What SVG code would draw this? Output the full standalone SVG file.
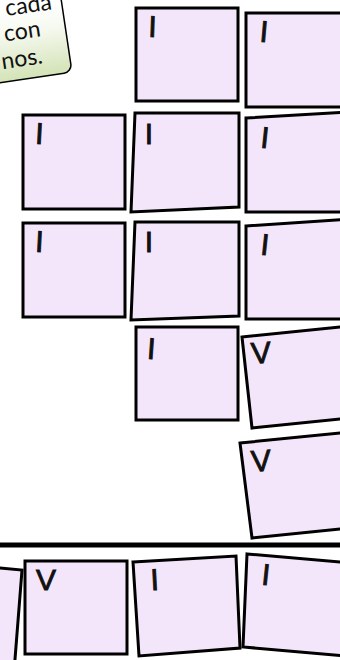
<svg xmlns="http://www.w3.org/2000/svg" width="340" height="660" viewBox="0 0 340 660">
<defs>
<linearGradient id="gNote" gradientUnits="userSpaceOnUse" x1="0" y1="0" x2="0" y2="72">
<stop offset="0" stop-color="#ffffff"/>
<stop offset="0.35" stop-color="#f6f9f0"/>
<stop offset="1" stop-color="#d3e3b6"/>
</linearGradient>
<style>
.card{fill:#f4e6fa;stroke:#000;stroke-width:3;stroke-linejoin:miter}
.mk{font-family:"Liberation Sans",Arial,sans-serif;font-size:30px;fill:#111;stroke:#111;stroke-width:0.9;text-anchor:middle}
.nt{font-family:Lato,"Liberation Sans",sans-serif;font-size:23px;fill:#111;text-anchor:end}
.sep{stroke:#000;stroke-width:5}
</style>
</defs>
<g id="note" transform="rotate(-8.5 72 72)">
<rect x="-200" y="-200" width="272" height="272" rx="8" fill="url(#gNote)" stroke="#000" stroke-width="1.5"/>
<text class="nt" x="62" y="7">cada</text>
<text class="nt" x="47" y="32">con</text>
<text class="nt" x="45" y="59">nos.</text>
</g>
<g id="cardA"><polygon class="card" points="136,8 238,8 238,101 136,101"/><text class="mk" x="152.5" y="37" transform="rotate(2 152 26)">I</text></g>
<g id="cardB"><polygon class="card" points="246,13 350,13 350,107 246,107"/><text class="mk" x="264" y="42" transform="rotate(5 264 31)">I</text></g>
<g id="cardC"><polygon class="card" points="23,115 125,115 125,209 23,209"/><text class="mk" x="39.5" y="144" transform="rotate(3 39 133)">I</text></g>
<g id="cardD"><polygon class="card" points="135,113 239,113 239,207 131,212"/><text class="mk" x="149" y="144">I</text></g>
<g id="cardE"><polygon class="card" points="246,118 350,112 350,212 246,212"/><text class="mk" x="265" y="148" transform="rotate(6 265 137)">I</text></g>
<g id="cardF"><polygon class="card" points="23,223 125,223 125,317 23,317"/><text class="mk" x="39.5" y="252" transform="rotate(3 39 241)">I</text></g>
<g id="cardG"><polygon class="card" points="135,222 239,222 239,316 131,320"/><text class="mk" x="149" y="252">I</text></g>
<g id="cardH"><polygon class="card" points="246,226 350,219 350,319 246,319"/><text class="mk" x="265" y="255" transform="rotate(6 265 244)">I</text></g>
<g id="cardI"><polygon class="card" points="136,327 238,327 238,420 136,420"/><text class="mk" x="151.5" y="359" transform="rotate(4 151 348)">I</text></g>
<g id="cardJ"><polygon class="card" points="242,337 350,326 360,417 252,428"/><text class="mk" x="261" y="363" transform="rotate(-4 261 352)">V</text></g>
<g id="cardK"><polygon class="card" points="240,443 350,432 360,527 252,538"/><text class="mk" x="261" y="471" transform="rotate(-4 261 460)">V</text></g>
<g id="separator"><line class="sep" x1="0" y1="545" x2="340" y2="545"/></g>
<g id="cardL"><polygon class="card" points="-80,561 22,570 14,672 -88,663"/></g>
<g id="cardM"><polygon class="card" points="25,561 127,561 127,654 25,654"/><text class="mk" x="46" y="590">V</text></g>
<g id="cardN"><polygon class="card" points="133,562 236,556 240,648 139,656"/><text class="mk" x="154.5" y="590" transform="rotate(-3 154 579)">I</text></g>
<g id="cardO"><polygon class="card" points="247,554 352,563 347,656 243,647"/><text class="mk" x="266" y="585" transform="rotate(6 266 574)">I</text></g>
</svg>
